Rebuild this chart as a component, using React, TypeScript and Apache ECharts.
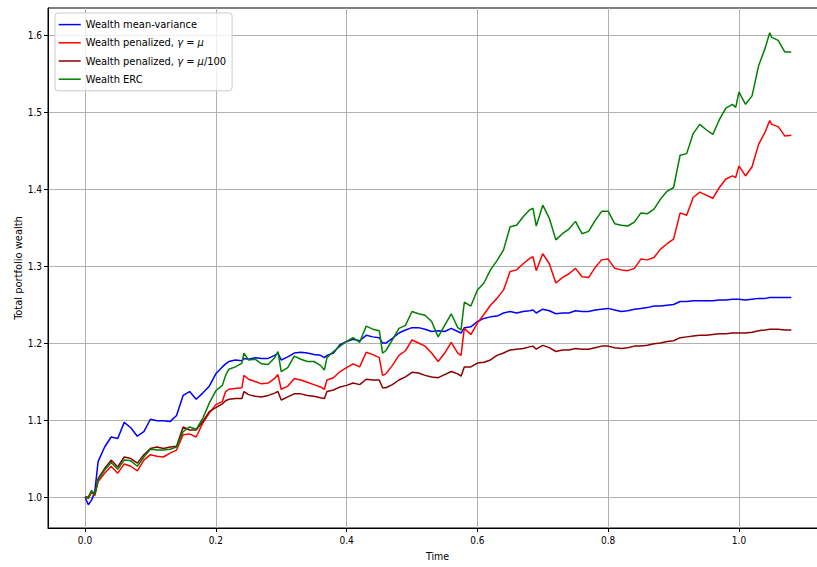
import React, { useEffect, useRef } from "react";
import * as echarts from "echarts";

const time = [
  0, 0.005, 0.01, 0.015, 0.02, 0.03, 0.04, 0.05, 0.06, 0.07, 0.08, 0.09, 0.1, 0.11, 0.12, 0.13, 0.14, 0.15, 0.16, 0.17, 0.18, 0.19, 0.2,
  0.21, 0.215, 0.22, 0.23, 0.24, 0.243, 0.25, 0.26, 0.27, 0.28, 0.29, 0.295, 0.3, 0.31, 0.32, 0.33, 0.34, 0.35, 0.36, 0.366, 0.37, 0.38, 0.39, 0.4, 0.41, 0.42,
  0.43, 0.44, 0.45, 0.455, 0.46, 0.47, 0.48, 0.49, 0.5, 0.51, 0.52, 0.53, 0.54, 0.55, 0.56, 0.57, 0.575, 0.58, 0.59, 0.6, 0.61, 0.62, 0.63,
  0.64, 0.65, 0.66, 0.67, 0.68, 0.685, 0.69, 0.7, 0.71, 0.72, 0.73, 0.74, 0.75, 0.76, 0.77, 0.78, 0.79, 0.8, 0.81, 0.82, 0.83, 0.84, 0.85,
  0.86, 0.87, 0.88, 0.89, 0.9, 0.91, 0.92, 0.93, 0.94, 0.95, 0.96, 0.97, 0.98, 0.99, 0.995, 1.0, 1.01, 1.02, 1.03, 1.04, 1.047, 1.05, 1.06, 1.07, 1.08,
];

const wealthMeanVariance = [
  1.0, 0.99, 0.996, 1.007, 1.046, 1.065, 1.078, 1.076, 1.097, 1.09, 1.079, 1.085, 1.101, 1.099, 1.099, 1.098, 1.106, 1.132, 1.137, 1.127, 1.135, 1.144, 1.16,
  1.169, 1.173, 1.176, 1.178, 1.177, 1.18, 1.179, 1.181, 1.18, 1.18, 1.184, 1.187, 1.178, 1.182, 1.187, 1.188, 1.187, 1.185, 1.184, 1.181, 1.184, 1.187, 1.198, 1.202, 1.205, 1.203,
  1.21, 1.208, 1.207, 1.2, 1.2, 1.206, 1.213, 1.217, 1.22, 1.22, 1.218, 1.215, 1.216, 1.215, 1.219, 1.215, 1.213, 1.22, 1.221, 1.228, 1.232, 1.234, 1.235,
  1.239, 1.241, 1.239, 1.241, 1.242, 1.243, 1.239, 1.244, 1.242, 1.238, 1.239, 1.239, 1.242, 1.241, 1.241, 1.243, 1.244, 1.245, 1.243, 1.241, 1.242, 1.244, 1.245,
  1.246, 1.248, 1.248, 1.249, 1.25, 1.254, 1.254, 1.255, 1.255, 1.255, 1.255, 1.256, 1.256, 1.257, 1.257, 1.257, 1.256, 1.257, 1.258, 1.258, 1.259, 1.259, 1.259, 1.259, 1.259,
];

const wealthPenalized = [
  1.0, 0.998, 1.006, 1.002, 1.02, 1.031, 1.04, 1.031, 1.043, 1.04, 1.034, 1.048, 1.055, 1.053, 1.052, 1.057, 1.061, 1.081, 1.082, 1.078, 1.096, 1.109, 1.12,
  1.124, 1.137, 1.14, 1.141, 1.142, 1.158, 1.153, 1.15, 1.147, 1.148, 1.154, 1.159, 1.14, 1.144, 1.154, 1.152, 1.149, 1.146, 1.143, 1.14, 1.152, 1.155, 1.163, 1.168, 1.173, 1.169,
  1.188, 1.185, 1.181, 1.158, 1.16, 1.171, 1.184, 1.19, 1.204, 1.2, 1.196, 1.187, 1.176, 1.187, 1.201, 1.187, 1.184, 1.219, 1.211, 1.226, 1.237, 1.249, 1.258,
  1.269, 1.293, 1.295, 1.303, 1.31, 1.312, 1.294, 1.316, 1.303, 1.278, 1.285, 1.29, 1.297, 1.286, 1.285, 1.298, 1.308, 1.309, 1.297, 1.295, 1.294, 1.297, 1.309,
  1.308, 1.311, 1.322, 1.329, 1.335, 1.369, 1.366, 1.389, 1.396, 1.392, 1.388, 1.402, 1.413, 1.417, 1.415, 1.43, 1.417, 1.429, 1.458, 1.474, 1.489, 1.484, 1.481, 1.469, 1.47,
];

const wealthPenalized100 = [
  1.0, 1.0, 1.008, 1.004, 1.024, 1.037, 1.048, 1.039, 1.052, 1.05, 1.044, 1.055, 1.063, 1.065, 1.063, 1.065, 1.066, 1.091, 1.087, 1.087, 1.098, 1.111, 1.116,
  1.121, 1.125, 1.127, 1.128, 1.128, 1.137, 1.133, 1.131, 1.13, 1.132, 1.135, 1.137, 1.126, 1.13, 1.134, 1.134, 1.132, 1.131, 1.129, 1.128, 1.137, 1.139, 1.143, 1.145, 1.148, 1.146,
  1.153, 1.152, 1.152, 1.142, 1.142, 1.146, 1.152, 1.156, 1.162, 1.161, 1.158, 1.156, 1.155, 1.159, 1.163, 1.16, 1.157, 1.169, 1.169, 1.174, 1.175, 1.178, 1.184,
  1.187, 1.191, 1.192, 1.193, 1.195, 1.196, 1.192, 1.197, 1.194, 1.189, 1.191, 1.191, 1.193, 1.192, 1.192, 1.194, 1.196, 1.196, 1.194, 1.193, 1.194, 1.196, 1.196,
  1.197, 1.199, 1.2, 1.202, 1.203, 1.207, 1.208, 1.209, 1.21, 1.21, 1.211, 1.212, 1.212, 1.213, 1.213, 1.213, 1.213, 1.214, 1.216, 1.217, 1.218, 1.218, 1.218, 1.217, 1.217,
];

const wealthERC = [
  1.0, 0.999, 1.008, 1.003, 1.022, 1.035, 1.045, 1.036, 1.048, 1.047, 1.04, 1.052, 1.062, 1.061, 1.061, 1.062, 1.065, 1.085, 1.091, 1.088, 1.102, 1.122, 1.138,
  1.145, 1.158, 1.166, 1.169, 1.174, 1.187, 1.178, 1.179, 1.173, 1.172, 1.181, 1.189, 1.163, 1.168, 1.183, 1.179, 1.176, 1.176, 1.171, 1.165, 1.181, 1.189, 1.196, 1.202, 1.207, 1.201,
  1.222, 1.218, 1.216, 1.187, 1.19, 1.204, 1.219, 1.223, 1.241, 1.238, 1.236, 1.228, 1.208, 1.223, 1.238, 1.22, 1.217, 1.253, 1.248, 1.269, 1.278, 1.295, 1.307,
  1.321, 1.351, 1.353, 1.364, 1.373, 1.375, 1.352, 1.379, 1.362, 1.334, 1.342, 1.348, 1.358, 1.342, 1.345, 1.359, 1.371, 1.371, 1.355, 1.353, 1.352, 1.357, 1.369,
  1.368, 1.374, 1.387, 1.397, 1.402, 1.444, 1.446, 1.472, 1.484, 1.477, 1.471, 1.49, 1.505, 1.51, 1.506, 1.526, 1.51, 1.521, 1.56, 1.583, 1.603, 1.597, 1.593, 1.578, 1.578,
];

const seriesNames = [
  "Wealth mean-variance",
  "Wealth penalized, γ = μ",
  "Wealth penalized, γ = μ/100",
  "Wealth ERC",
];
const seriesColors = ["#0000ff", "#ff0000", "#8b0000", "#008000"];
const seriesValues = [wealthMeanVariance, wealthPenalized, wealthPenalized100, wealthERC];

const xTicks = [0.0, 0.2, 0.4, 0.6, 0.8, 1.0];
const yTicks = [1.0, 1.1, 1.2, 1.3, 1.4, 1.5, 1.6];

const FONT = "'DejaVu Sans Condensed', 'DejaVu Sans', sans-serif";

export default function App() {
  const ref = useRef<HTMLDivElement>(null);

  useEffect(() => {
    if (!ref.current) return;
    const chart = echarts.init(ref.current, null, { renderer: "svg" });

    const series = seriesNames.map((name, i) => ({
      name,
      type: "line",
      data: time.map((t, j) => [t, seriesValues[i][j]]),
      symbol: "none",
      showSymbol: false,
      lineStyle: { color: seriesColors[i], width: 1.5 },
      itemStyle: { color: seriesColors[i] },
      z: 3,
    }));

    chart.setOption({
      animation: false,
      backgroundColor: "#ffffff",
      textStyle: { fontFamily: FONT },
      grid: {
        left: 48,
        top: 8,
        right: 3,
        bottom: 39,
        show: true,
        borderColor: "#000000",
        borderWidth: 1,
        backgroundColor: "transparent",
        containLabel: false,
      },
      legend: {
        orient: "vertical",
        left: 55,
        top: 13,
        padding: [6, 6, 6, 3],
        itemWidth: 22,
        itemHeight: 14,
        itemGap: 7,
        backgroundColor: "rgba(255,255,255,0.8)",
        borderColor: "#cccccc",
        borderWidth: 1,
        borderRadius: 3,
        data: seriesNames,
        itemStyle: { opacity: 0 },
        lineStyle: { width: 1.5 },
        formatter: (name: string) => name.replace(/γ/g, "{m|γ}").replace(/μ/g, "{m|μ}"),
        textStyle: {
          fontFamily: FONT,
          fontSize: 11,
          color: "#000000",
          rich: {
            m: { fontFamily: FONT, fontSize: 11, fontStyle: "italic", color: "#000000" },
          },
        },
      },
      xAxis: {
        type: "value",
        min: -0.0566,
        max: 1.1346,
        splitNumber: 6,
        name: "Time",
        nameLocation: "middle",
        nameGap: 22,
        nameMoveOverlap: false,
        nameTextStyle: { fontFamily: FONT, fontSize: 10.5, color: "#000000" },
        axisLine: { show: true, onZero: false, lineStyle: { color: "#000000", width: 1 } },
        axisTick: {
          show: true,
          length: 4,
          inside: false,
          customValues: xTicks,
          lineStyle: { color: "#000000", width: 1 },
        },
        axisLabel: {
          show: true,
          margin: 7,
          customValues: xTicks,
          fontFamily: FONT,
          fontSize: 10,
          color: "#000000",
          formatter: (v: number) => v.toFixed(1),
        },
        splitLine: { show: true, lineStyle: { color: "#b0b0b0", width: 1 } },
      },
      yAxis: {
        type: "value",
        min: 0.9598,
        max: 1.6351,
        splitNumber: 6,
        name: "Total portfolio wealth",
        nameLocation: "middle",
        nameGap: 24,
        nameMoveOverlap: false,
        nameTextStyle: { fontFamily: FONT, fontSize: 11, color: "#000000" },
        axisLine: { show: true, onZero: false, lineStyle: { color: "#000000", width: 1 } },
        axisTick: {
          show: true,
          length: 4,
          inside: false,
          customValues: yTicks,
          lineStyle: { color: "#000000", width: 1 },
        },
        axisLabel: {
          show: true,
          margin: 6,
          customValues: yTicks,
          fontFamily: FONT,
          fontSize: 10,
          color: "#000000",
          formatter: (v: number) => v.toFixed(1),
        },
        splitLine: { show: true, lineStyle: { color: "#b0b0b0", width: 1 } },
      },
      series,
    });

    return () => chart.dispose();
  }, []);

  return (
    <div
      ref={ref}
      style={{ position: "fixed", left: 0, top: 0, width: 830, height: 567, overflow: "hidden" }}
    />
  );
}
